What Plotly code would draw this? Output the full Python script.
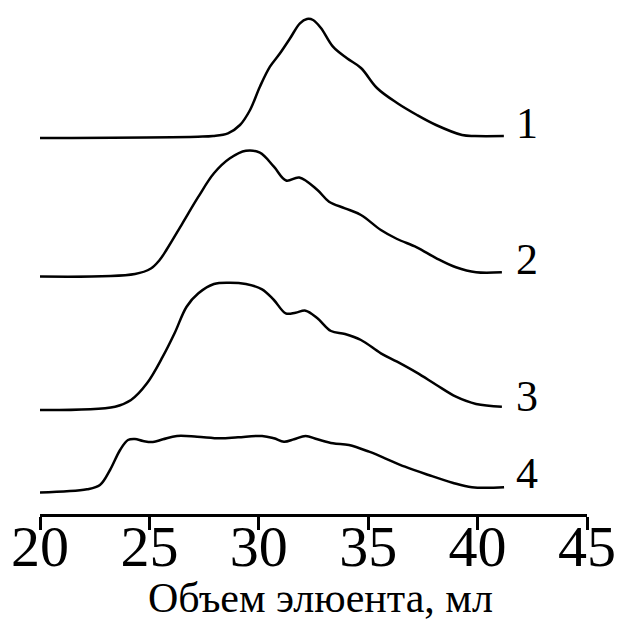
import plotly.graph_objects as go

# Elution volume (ml) and signal heights above each curve's own baseline
x1 = [20.0, 27.22, 27.91, 28.59, 29.14, 29.60, 30.05, 30.51, 30.97, 31.43, 31.88, 32.2, 32.48, 32.84, 33.39, 34.03, 34.67, 35.40, 36.32, 37.23, 38.10, 39.29, 39.88, 41.2]
h1 = [0, 1.3, 2, 4.7, 13, 28, 51.3, 71.3, 84.7, 99.7, 114.7, 119, 118, 110, 91.3, 79.7, 70, 50, 35, 23, 13, 3, 2, 2]

x2 = [20.0, 24.34, 25.07, 25.45, 25.79, 26.51, 27.24, 27.95, 28.68, 29.41, 30.05, 30.69, 31.25, 31.85, 32.68, 33.21, 33.94, 34.67, 35.58, 36.32, 37.22, 38.12, 39.01, 39.93, 41.11]
h2 = [0, 2.5, 8, 16, 27, 53.2, 79.8, 103.2, 118.2, 125.8, 123.8, 109.8, 96, 99, 86.5, 74.8, 68.2, 61.5, 46.5, 37.5, 29.2, 18.2, 9.2, 4.2, 4.2]

x3 = [20.0, 23.43, 24.16, 24.89, 25.61, 26.15, 26.70, 27.24, 27.95, 28.68, 29.41, 30.15, 30.69, 31.23, 31.68, 32.14, 32.68, 33.30, 33.94, 34.67, 35.58, 36.32, 37.22, 38.12, 39.01, 39.93, 41.11]
h3 = [0, 3.3, 10, 26.7, 53.3, 76.7, 103.3, 116.7, 126, 127.3, 126, 120.7, 110, 96.7, 97.3, 99.3, 91.7, 79, 76, 70, 56.7, 48.3, 37.3, 25, 13.3, 6, 3.3]

x4 = [20.0, 22.15, 22.74, 23.20, 23.66, 24.02, 24.34, 24.71, 25.16, 25.62, 26.26, 27.18, 28.23, 29.05, 30.15, 30.69, 31.15, 31.61, 32.14, 32.68, 33.39, 34.12, 35.04, 35.77, 36.68, 37.76, 38.85, 39.74, 41.21]
h4 = [0, 3.2, 7.5, 22.5, 42.5, 52.5, 53.5, 51.5, 50.5, 53.2, 56.5, 55.8, 54.2, 55.2, 56.5, 54.2, 50.8, 53.2, 56.5, 53.2, 49.2, 47.5, 40.8, 34.2, 25.8, 17.5, 9.8, 5.2, 5.2]

offsets = [376, 237.5, 104, 21.5]
curve_labels = ["1", "2", "3", "4"]
label_y = [390.5, 254.5, 117.5, 40.5]
label_x = 42.26

tick_vals = [20, 25, 30, 35, 40, 45]
x_title = "Объем элюента, мл"

xs = [x1, x2, x3, x4]
hs = [h1, h2, h3, h4]

fig = go.Figure()
for xv, hv, off in zip(xs, hs, offsets):
    fig.add_trace(go.Scatter(
        x=xv, y=[v + off for v in hv], mode="lines",
        line=dict(color="black", width=2.5, shape="spline", smoothing=1.0),
        showlegend=False, hoverinfo="skip"))

serif = "Liberation Serif"
for lab, ly in zip(curve_labels, label_y):
    fig.add_annotation(x=label_x, y=ly, text=lab, showarrow=False,
                       xanchor="center", yanchor="middle",
                       font=dict(family=serif, size=44, color="black"))

fig.add_annotation(xref="paper", yref="paper", x=0.5128, y=-0.2163,
                   text=x_title, showarrow=False, xanchor="center", yanchor="bottom",
                   font=dict(family=serif, size=42, color="black"))

fig.update_layout(
    width=620, height=624,
    margin=dict(l=40, r=33, t=10, b=110),
    paper_bgcolor="white", plot_bgcolor="white",
    template="none",
    xaxis=dict(range=[20, 45], tickvals=tick_vals, ticks="outside", ticklen=13,
               tickwidth=2.5, tickcolor="black", showline=True, linecolor="black",
               linewidth=2.5, showgrid=False, zeroline=False, automargin=False,
               ticklabelstandoff=-33,
               tickfont=dict(family=serif, size=58, color="black")),
    yaxis=dict(range=[0, 504], visible=False, showgrid=False, zeroline=False,
               automargin=False),
)

fig.write_html("out.html")
